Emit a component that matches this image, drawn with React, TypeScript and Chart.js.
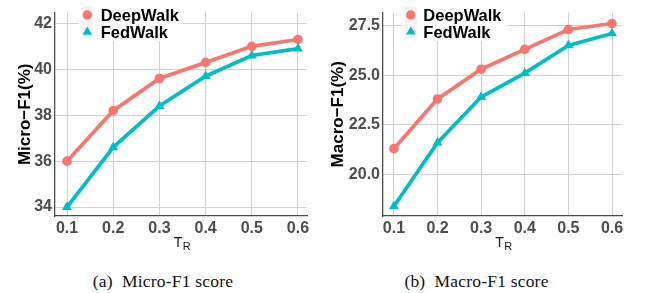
import React, { useEffect, useRef } from "react";
import { Chart, registerables } from "chart.js";

Chart.register(...registerables);

// ---------- data ----------
const trValues = [0.1, 0.2, 0.3, 0.4, 0.5, 0.6];
const xTicks = [0.1, 0.2, 0.3, 0.4, 0.5, 0.6];
const seriesNames = ["DeepWalk", "FedWalk"];

const microDeepWalk = [36.0, 38.2, 39.6, 40.3, 41.0, 41.3];
const microFedWalk = [34.0, 36.6, 38.4, 39.7, 40.6, 40.9];
const microYTicks = [34, 36, 38, 40, 42];

const macroDeepWalk = [21.3, 23.8, 25.3, 26.3, 27.3, 27.6];
const macroFedWalk = [18.4, 21.6, 23.9, 25.1, 26.5, 27.1];
const macroYTicks = [20.0, 22.5, 25.0, 27.5];

const captions = ["(a)  Micro-F1 score", "(b)  Macro-F1 score"];
const yTitles = ["Micro\u2212F1(%)", "Macro\u2212F1(%)"];
const xTitleMain = "T";
const xTitleSub = "R";

// ---------- styles ----------
const SANS = "'Liberation Sans', Arial, sans-serif";
const RED = "#F8766D";
const TEAL = "#00BFC4";

const insideLegend = {
  id: "insideLegend",
  beforeDatasetsDraw(chart: any, _args: any, o: any) {
    const ctx = chart.ctx;
    ctx.save();
    ctx.fillStyle = "#FFFFFF";
    ctx.fillRect(o.boxX, o.boxY, o.boxW, o.boxH);
    ctx.fillStyle = "#F2F2F2";
    ctx.fillRect(o.keyX, o.keyY, o.keyW, o.keyH);
    chart.data.datasets.forEach((ds: any, i: number) => {
      const cx = o.symX;
      const cy = o.symY[i];
      ctx.fillStyle = ds.pointBackgroundColor;
      ctx.beginPath();
      if (ds.pointStyle === "triangle") {
        const r = o.triR;
        ctx.moveTo(cx, cy - r);
        ctx.lineTo(cx - r * Math.sin(Math.PI / 3), cy + r / 2);
        ctx.lineTo(cx + r * Math.sin(Math.PI / 3), cy + r / 2);
        ctx.closePath();
      } else {
        ctx.arc(cx, cy, o.circR, 0, Math.PI * 2);
      }
      ctx.fill();
      ctx.fillStyle = "#000000";
      ctx.font = `bold 16.5px ${SANS}`;
      ctx.textAlign = "left";
      ctx.textBaseline = "alphabetic";
      ctx.fillText(ds.label, o.textX, o.textY[i]);
    });
    ctx.restore();
  },
};

const subTitle = {
  id: "subTitle",
  afterDraw(chart: any, _args: any, o: any) {
    const ctx = chart.ctx;
    const area = chart.chartArea;
    ctx.save();
    ctx.fillStyle = "#1A1A1A";
    ctx.textBaseline = "alphabetic";
    ctx.textAlign = "left";
    ctx.font = `14px ${SANS}`;
    const wT = ctx.measureText(xTitleMain).width;
    ctx.font = `11px ${SANS}`;
    const wR = ctx.measureText(xTitleSub).width;
    const cx = (area.left + area.right) / 2 + o.dx;
    const start = cx - (wT + wR) / 2;
    ctx.font = `14px ${SANS}`;
    ctx.fillText(xTitleMain, start, o.baseT);
    ctx.font = `11px ${SANS}`;
    ctx.fillText(xTitleSub, start + wT + 0.5, o.baseR);
    ctx.restore();
  },
};

type Panel = {
  deep: number[];
  fed: number[];
  yTicks: number[];
  yMin: number;
  yMax: number;
  xMin: number;
  xMax: number;
  yTitle: string;
  yFmt: (v: number) => string;
  yAxisWidth: number;
  padRight: number;
  titlePad: number;
  legend: any;
};

function makeConfig(p: Panel): any {
  const mk = (vals: number[]) => trValues.map((x, i) => ({ x, y: vals[i] }));
  return {
    type: "line",
    data: {
      datasets: [
        {
          label: seriesNames[0],
          data: mk(p.deep),
          borderColor: RED,
          backgroundColor: RED,
          pointBackgroundColor: RED,
          pointBorderColor: RED,
          pointBorderWidth: 0,
          pointStyle: "circle",
          pointRadius: 4.8,
          borderWidth: 3.7,
          tension: 0,
        },
        {
          label: seriesNames[1],
          data: mk(p.fed),
          borderColor: TEAL,
          backgroundColor: TEAL,
          pointBackgroundColor: TEAL,
          pointBorderColor: TEAL,
          pointBorderWidth: 0,
          pointStyle: "triangle",
          pointRadius: 5.8,
          borderWidth: 3.7,
          tension: 0,
        },
      ],
    },
    options: {
      responsive: false,
      animation: false,
      devicePixelRatio: 1,
      clip: false,
      layout: { padding: { left: 0, right: p.padRight, top: 10, bottom: 0 } },
      plugins: {
        legend: { display: false },
        tooltip: { enabled: false },
        insideLegend: p.legend,
        subTitle: { dx: 1, baseT: 246.7, baseR: 250 },
      },
      scales: {
        x: {
          type: "linear",
          min: p.xMin,
          max: p.xMax,
          afterBuildTicks: (s: any) => {
            s.ticks = xTicks.map((v) => ({ value: v }));
          },
          afterFit: (s: any) => {
            s.height = 39;
          },
          grid: { color: "#D3D3D3", lineWidth: 1, drawTicks: false },
          border: { display: true, color: "#4D4D4D", width: 1.3 },
          ticks: {
            font: { family: SANS, size: 16, weight: "bold" },
            color: "#4D4D4D",
            padding: 3,
            maxRotation: 0,
            autoSkip: false,
            callback: (v: number) => v.toFixed(1),
          },
        },
        y: {
          type: "linear",
          min: p.yMin,
          max: p.yMax,
          afterBuildTicks: (s: any) => {
            s.ticks = p.yTicks.map((v) => ({ value: v }));
          },
          afterFit: (s: any) => {
            s.width = p.yAxisWidth;
          },
          grid: { color: "#D3D3D3", lineWidth: 1, drawTicks: false },
          border: { display: true, color: "#4D4D4D", width: 1.3 },
          ticks: {
            font: { family: SANS, size: 16, weight: "bold" },
            color: "#4D4D4D",
            padding: 3,
            autoSkip: false,
            callback: (v: number) => p.yFmt(v),
          },
          title: {
            display: true,
            text: p.yTitle,
            color: "#000000",
            font: { family: SANS, size: 17, weight: "bold" },
            padding: { top: p.titlePad, bottom: 0 },
          },
        },
      },
    },
    plugins: [insideLegend, subTitle],
  };
}

const panels: Panel[] = [
  {
    deep: microDeepWalk,
    fed: microFedWalk,
    yTicks: microYTicks,
    yMin: 33.61,
    yMax: 42.47,
    xMin: 0.074,
    xMax: 0.6195,
    yTitle: yTitles[0],
    yFmt: (v) => String(v),
    yAxisWidth: 55,
    padRight: 15,
    titlePad: 14.8,
    legend: {
      boxX: 79, boxY: 5, boxW: 104, boxH: 36,
      keyX: 81.7, keyY: 6.7, keyW: 11, keyH: 31.6,
      symX: 87.3, symY: [15, 32], circR: 4.7, triR: 5.5,
      textX: 100.7, textY: [21.3, 37.5],
    },
  },
  {
    deep: macroDeepWalk,
    fed: macroFedWalk,
    yTicks: macroYTicks,
    yMin: 17.91,
    yMax: 28.15,
    xMin: 0.075,
    xMax: 0.6229,
    yTitle: yTitles[1],
    yFmt: (v) => v.toFixed(1),
    yAxisWidth: 61,
    padRight: 23,
    titlePad: 6.2,
    legend: {
      boxX: 80.5, boxY: 5, boxW: 104, boxH: 36,
      keyX: 83, keyY: 6.7, keyW: 11.7, keyH: 31.6,
      symX: 88.8, symY: [15, 31.7], circR: 4.7, triR: 5.5,
      textX: 101.3, textY: [21.3, 37.5],
    },
  },
];

function ChartPanel({ panel, width, height }: { panel: Panel; width: number; height: number }) {
  const ref = useRef<HTMLCanvasElement | null>(null);
  useEffect(() => {
    if (!ref.current) return;
    const chart = new Chart(ref.current, makeConfig(panel));
    return () => chart.destroy();
  }, [panel]);
  return <canvas ref={ref} width={width} height={height} style={{ width, height, display: "block" }} />;
}

export default function App() {
  return (
    <div style={{ position: "absolute", left: 0, top: 0, width: 645, height: 293, background: "#fff", overflow: "hidden" }}>
      <div style={{ position: "absolute", left: 0, top: 0 }}>
        <ChartPanel panel={panels[0]} width={322} height={255} />
      </div>
      <div style={{ position: "absolute", left: 322, top: 0 }}>
        <ChartPanel panel={panels[1]} width={323} height={255} />
      </div>
      {[163, 476.5].map((cx, i) => (
        <div
          key={i}
          style={{
            position: "absolute",
            left: cx - 150,
            width: 300,
            top: 270.5,
            textAlign: "center",
            fontFamily: "'Liberation Serif', 'Times New Roman', serif",
            fontSize: 17.5,
            letterSpacing: 0.2,
            lineHeight: "20px",
            color: "#111",
            whiteSpace: "pre",
          }}
        >
          {captions[i]}
        </div>
      ))}
    </div>
  );
}
